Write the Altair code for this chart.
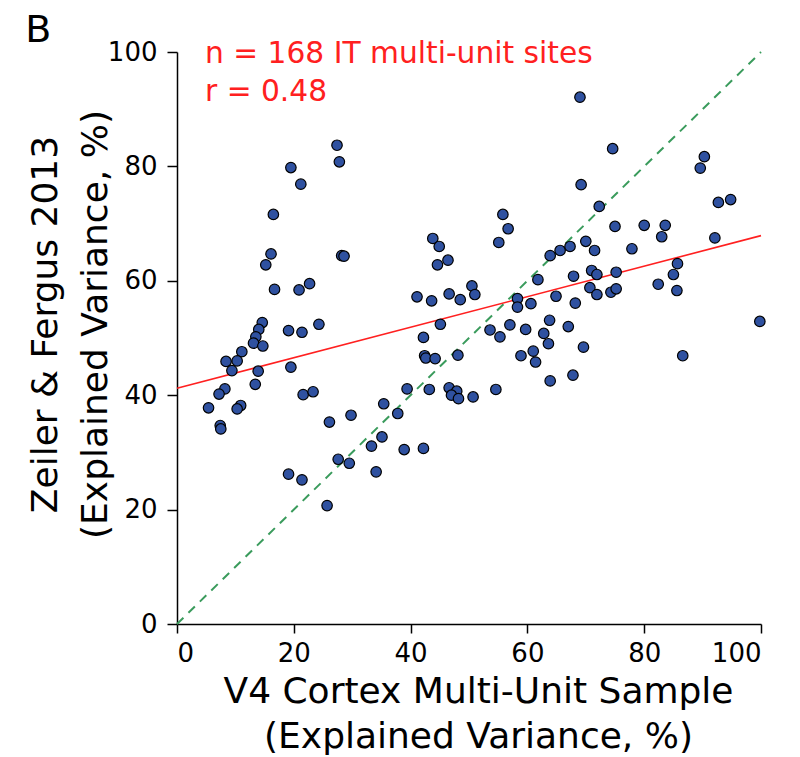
import altair as alt
import pandas as pd

# V4 cortex explained variance (x) vs Zeiler & Fergus 2013 explained variance (y)
v4_ev = [27.4, 27.8, 19.5, 21.2, 16.5, 16.1, 15.2, 28.2, 28.6, 16.7, 20.9, 22.7,
         14.6, 14.0, 19.1, 21.4, 24.3, 13.5, 13.1, 14.7, 11.1, 8.4, 10.3, 9.4,
         13.9, 19.5, 13.4, 8.2, 7.2, 21.6, 23.3, 5.4, 10.9, 10.3, 7.4, 7.5,
         26.1, 29.8, 33.3, 27.6, 29.5, 19.1, 21.4, 25.7,
         55.8, 56.7, 55.1, 43.8, 44.9, 46.4, 44.6, 63.9, 65.6, 61.8, 50.5, 51.0,
         46.6, 48.5, 41.1, 43.6, 58.3, 58.3, 60.6, 64.9, 45.1, 53.6, 55.3, 57.0,
         59.7, 63.8, 62.8, 63.6, 42.2, 42.4, 42.6, 44.2, 48.1, 58.9, 61.0, 61.4,
         63.9, 39.4, 43.2, 46.6, 47.9, 47.0, 48.2, 50.7, 54.6, 35.4, 37.8, 35.1,
         38.9, 42.2, 34.1,
         69.0, 74.6, 90.3, 89.6, 69.2, 72.3, 92.7, 94.8, 75.0, 80.0, 83.6, 83.0,
         92.1, 70.0, 67.3, 71.5, 77.9, 85.7, 85.0, 71.0, 71.9, 75.2, 67.9, 70.7,
         71.9, 74.3, 75.2, 82.4, 85.6, 68.2, 67.0, 69.6, 67.8, 86.6, 99.8]
zf_ev = [83.7, 80.8, 79.8, 76.9, 71.6, 64.7, 62.8, 64.4, 64.3, 58.5, 58.4, 59.5,
         52.7, 51.5, 51.3, 51.0, 52.4, 50.2, 49.1, 48.6, 47.6, 45.9, 46.0, 44.3,
         44.2, 44.9, 41.9, 41.1, 40.2, 40.1, 40.6, 37.8, 38.2, 37.6, 34.7, 34.1,
         35.3, 36.5, 31.1, 28.8, 28.1, 26.2, 25.2, 20.7,
         71.6, 69.1, 66.7, 67.4, 66.0, 63.6, 62.8, 64.4, 65.3, 60.2, 59.1, 57.6,
         57.7, 56.7, 57.2, 56.5, 56.9, 55.4, 56.0, 57.3, 52.4, 51.4, 50.2, 52.3,
         51.5, 53.1, 50.8, 49.0, 50.1, 46.9, 46.5, 46.4, 47.0, 46.9, 47.7, 45.8,
         42.5, 41.1, 41.0, 41.3, 40.7, 40.0, 39.4, 39.7, 41.0, 38.5, 36.8, 32.7,
         30.5, 30.7, 26.6,
         92.1, 83.1, 81.7, 79.7, 76.8, 73.0, 73.7, 74.2, 69.5, 69.7, 69.7, 67.7,
         67.5, 66.9, 66.0, 65.3, 65.6, 63.0, 61.1, 61.8, 61.1, 61.5, 60.8, 58.8,
         57.6, 58.0, 58.6, 59.4, 58.3, 56.1, 52.0, 48.4, 43.5, 46.9, 52.9]

# unity line and fitted regression line
unity_x = [0, 100]
unity_y = [0, 100]
fit_x = [0, 100]
fit_y = [41.2, 67.9]

annot_text = ["n = 168 IT multi-unit sites", "r = 0.48"]
annot_x = [4.8, 4.8]
annot_y = [98.1, 91.5]

panel_label = ["B"]
panel_x = [-26.0]
panel_y = [101.8]

ticks = [0, 20, 40, 60, 80, 100]

pts = pd.DataFrame({"x": v4_ev, "y": zf_ev})
unity = pd.DataFrame({"x": unity_x, "y": unity_y})
fit = pd.DataFrame({"x": fit_x, "y": fit_y})
annot = pd.DataFrame({"t": annot_text, "x": annot_x, "y": annot_y})
panel = pd.DataFrame({"t": panel_label, "x": panel_x, "y": panel_y})

FONT = "DejaVu Sans"

xscale = alt.Scale(domain=[0, 100], nice=False, zero=False)
yscale = alt.Scale(domain=[0, 100], nice=False, zero=False)

xaxis = alt.Axis(values=ticks, title=["V4 Cortex Multi-Unit Sample", "(Explained Variance, %)"],
                 titleX=301, titleY=67, titleBaseline="middle", titleAlign="center",
                 titleLineHeight=45, tickSize=9, labelPadding=7)
yaxis = alt.Axis(values=ticks, title=["Zeiler & Fergus 2013", "(Explained Variance, %)"],
                 titleX=-132, titleY=272, titleBaseline="middle", titleAlign="center",
                 titleAngle=270, titleLineHeight=50, tickSize=10, labelPadding=10)

points = alt.Chart(pts).mark_point(
    filled=True, fill="#2f51a0", stroke="black", strokeWidth=1.2, size=110, opacity=1,
    shape="circle"
).encode(
    x=alt.X("x:Q", scale=xscale, axis=xaxis),
    y=alt.Y("y:Q", scale=yscale, axis=yaxis),
)

unity_line = alt.Chart(unity).mark_line(
    color="#3a9b5c", strokeWidth=2, strokeDash=[9, 7]
).encode(x=alt.X("x:Q", scale=xscale), y=alt.Y("y:Q", scale=yscale))

fit_line = alt.Chart(fit).mark_line(
    color="#ff2020", strokeWidth=1.6
).encode(x=alt.X("x:Q", scale=xscale), y=alt.Y("y:Q", scale=yscale))

annot_layer = alt.Chart(annot).mark_text(
    align="left", baseline="alphabetic", font=FONT, fontSize=29.7, color="#ff2020"
).encode(x=alt.X("x:Q", scale=xscale), y=alt.Y("y:Q", scale=yscale), text="t:N")

panel_layer = alt.Chart(panel).mark_text(
    align="left", baseline="alphabetic", font=FONT, fontSize=38, color="black"
).encode(x=alt.X("x:Q", scale=xscale), y=alt.Y("y:Q", scale=yscale), text="t:N")

chart = alt.layer(unity_line, fit_line, points, annot_layer, panel_layer).properties(
    width=584, height=572,
    autosize=alt.AutoSizeParams(type="none"),
    padding={"left": 177, "top": 52, "right": 39, "bottom": 133},
    background="white",
).configure_view(stroke=None).configure_axis(
    grid=False, domainColor="black", domainWidth=1.5, tickColor="black",
    tickWidth=1.5, labelFont=FONT, labelFontSize=26, labelColor="black",
    titleFont=FONT, titleFontSize=36, titleColor="black",
    titleFontWeight="normal",
)

chart.save("out.html", embed_options={"renderer": "svg", "actions": False})
